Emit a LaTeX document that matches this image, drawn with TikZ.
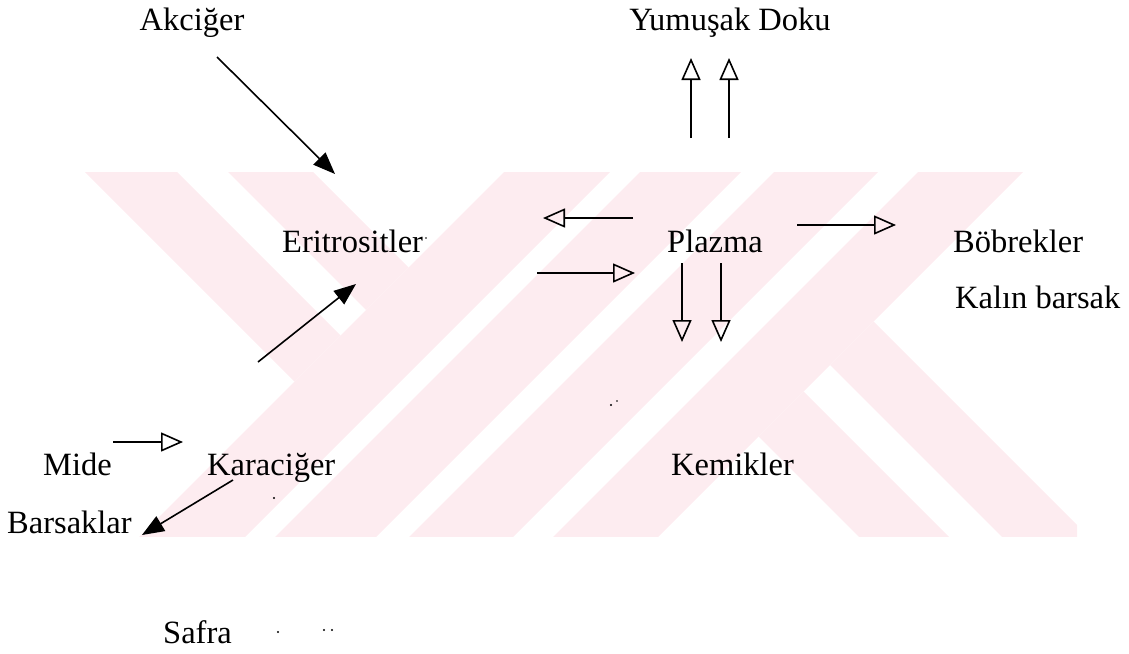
\documentclass[tikz,border=0pt]{standalone}
\usepackage{fontspec}
\setmainfont{Liberation Serif}
\usetikzlibrary{arrows.meta}
\definecolor{wm}{RGB}{253,236,240}
\begin{document}
\begin{tikzpicture}[x=1pt,y=-1pt,
  lbl/.style={anchor=base west,inner sep=0pt,font=\fontsize{32.5}{39}\selectfont},
  lblc/.style={anchor=base,inner sep=0pt,font=\fontsize{32.5}{39}\selectfont},
  fillarr/.style={line width=1.6pt,-{Triangle[length=22pt,width=17pt]}},
  openarr/.style={line width=1.6pt,-{Triangle[open,length=22pt,width=19pt]}},
  speck/.style={fill=black}]
\useasboundingbox (0,0) rectangle (1129,653);
% watermark
\begin{scope}
\clip (80,172) rectangle (1077,536);
\fill[wm] (-243.5,-156.5) -- (-197.5,-202.5) -- (340.5,335.5) -- (294.5,381.5) -- cycle;
\fill[wm] (-172,-228) -- (-129.5,-270.5) -- (408.5,267.5) -- (366,310) -- cycle;
\fill[wm] (88,588) -- (813,-137) -- (866,-84) -- (141,641) -- cycle;
\fill[wm] (156,656) -- (881,-69) -- (931.5,-18.5) -- (206.5,706.5) -- cycle;
\fill[wm] (223,723) -- (948,-2) -- (1000,50) -- (275,775) -- cycle;
\fill[wm] (295,795) -- (1020,70) -- (1072.5,122.5) -- (347.5,847.5) -- cycle;
\fill[wm] (758.5,436.5) -- (803.5,391.5) -- (1206,794) -- (1161,839) -- cycle;
\fill[wm] (830,365) -- (873.5,321.5) -- (1276,724) -- (1232.5,767.5) -- cycle;
\end{scope}
% labels
\node[lblc] (akc) at (192,30) {Akciğer};
\node[lblc] (yum) at (730,30) {Yumuşak Doku};
\node[lbl] (eri) at (282,252) {Eritrositler};
\node[lbl] (pla) at (667,252) {Plazma};
\node[lbl] (bob) at (953,252) {Böbrekler};
\node[lbl] (kal) at (955,308) {Kalın barsak};
\node[lbl] (mid) at (43,475) {Mide};
\node[lbl] (kar) at (207,475) {Karaciğer};
\node[lbl] (kem) at (671,475) {Kemikler};
\node[lbl] (bar) at (7,533) {Barsaklar};
\node[lbl] (saf) at (163,643) {Safra};
% arrow end points
\coordinate (a1s) at (217,57);  \coordinate (a1e) at (335,174);
\coordinate (a2s) at (258,362); \coordinate (a2e) at (356,284);
\coordinate (a3s) at (113,442); \coordinate (a3e) at (183,442);
\coordinate (a4s) at (233,480); \coordinate (a4e) at (142,535);
\coordinate (a5s) at (633,218); \coordinate (a5e) at (543,218);
\coordinate (a6s) at (537,273); \coordinate (a6e) at (635,273);
\coordinate (a7s) at (691,138); \coordinate (a7e) at (691,58);
\coordinate (a8s) at (729,138); \coordinate (a8e) at (729,58);
\coordinate (a9s) at (682,263); \coordinate (a9e) at (682,342);
\coordinate (a10s) at (721,263); \coordinate (a10e) at (721,342);
\coordinate (a11s) at (797,225); \coordinate (a11e) at (896,225);
\draw[fillarr] (a1s) -- (a1e);
\draw[fillarr] (a2s) -- (a2e);
\draw[openarr] (a3s) -- (a3e);
\draw[fillarr] (a4s) -- (a4e);
\draw[openarr] (a5s) -- (a5e);
\draw[openarr] (a6s) -- (a6e);
\draw[openarr] (a7s) -- (a7e);
\draw[openarr] (a8s) -- (a8e);
\draw[openarr] (a9s) -- (a9e);
\draw[openarr] (a10s) -- (a10e);
\draw[openarr] (a11s) -- (a11e);
% specks
\fill[speck] (274,498) circle (1.2);
\fill[speck] (611,405) circle (1.1);
\fill[speck] (617,401) circle (0.9);
\fill[speck] (426,238) circle (0.9);
\fill[speck] (278,632) circle (1.1);
\fill[speck] (324,630) circle (1.1);
\fill[speck] (332,630) circle (1.1);
\end{tikzpicture}
\end{document}
